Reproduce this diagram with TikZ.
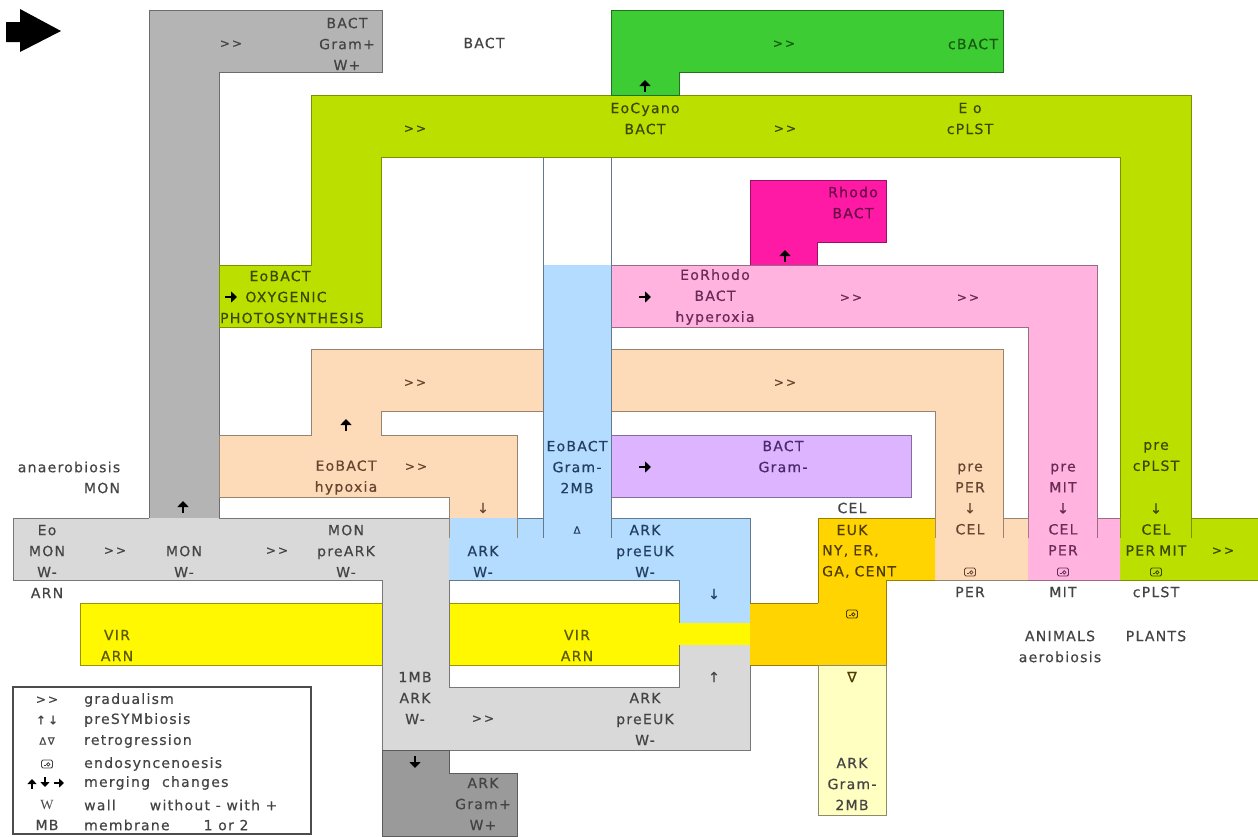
\documentclass[tikz,border=0pt]{standalone}
\usepackage{fontspec}
\setmainfont{DejaVu Sans}[LetterSpace=9, FakeBold=0.5]
\newfontfamily\serifw{Liberation Serif}
\usetikzlibrary{arrows.meta}
\definecolor{cGrayU}{HTML}{B4B4B4}
\definecolor{cGrayL}{HTML}{D9D9D9}
\definecolor{cGrayD}{HTML}{9A9A9A}
\definecolor{cLime}{HTML}{BBE000}
\definecolor{cGreen}{HTML}{3DCC33}
\definecolor{cMag}{HTML}{FF1AA6}
\definecolor{cPink}{HTML}{FFB3DE}
\definecolor{cPeach}{HTML}{FDDBB8}
\definecolor{cPurp}{HTML}{DDB4FF}
\definecolor{cBlue}{HTML}{B4DCFF}
\definecolor{cYel}{HTML}{FFF800}
\definecolor{cGold}{HTML}{FFD400}
\definecolor{cLYel}{HTML}{FFFFC2}
\definecolor{tGray}{HTML}{444444}
\definecolor{tLime}{HTML}{3A4800}
\definecolor{tGreen}{HTML}{155A0E}
\definecolor{tMag}{HTML}{6A0A44}
\definecolor{tPink}{HTML}{6A2A58}
\definecolor{tPeach}{HTML}{664530}
\definecolor{tPurp}{HTML}{4A2A6A}
\definecolor{tBlue}{HTML}{233F60}
\definecolor{tYel}{HTML}{5A5A00}
\definecolor{tGold}{HTML}{4E3C00}
\tikzset{
  ol/.style={draw=#1, line width=0.9pt, line join=miter},
  t/.style={inner sep=0pt, align=center, font=\fontsize{14}{21}\selectfont},
  gg/.style={t, font=\fontsize{12}{12}\selectfont},
  ha/.pic={\draw[line width=2.8pt,-{Triangle[length=6pt,width=11pt]}] (-6,0) -- (6,0);},
  hs/.pic={\draw[line width=2.4pt,-{Triangle[length=5pt,width=9pt]}] (-5,0) -- (5,0);},
  endo/.pic={\draw[line width=0.9pt,rounded corners=1.4pt] (-5.5,-4) rectangle (5.5,4);
             \draw[line width=0.8pt] (1.3,0.4) circle (1.7); \draw[line width=0.8pt] (-3.3,1.7) -- (-0.6,1.7);},
}
\begin{document}
\begin{tikzpicture}[x=1pt,y=-1pt]
\useasboundingbox[fill=white] (0,0) rectangle (1258,836);
% upper gray (BACT Gram+)
\fill[cGrayU] (149,10) -- (382,10) -- (382,72) -- (219,72) -- (219,518) -- (149,518) -- cycle;
\draw[ol=cGrayU!60!black] (149,518) -- (149,10) -- (382,10) -- (382,72) -- (219,72) -- (219,518);
% lime green
\fill[cLime] (311,95) -- (1191,95) -- (1191,518) -- (1258,518) -- (1258,580) -- (1120,580) -- (1120,157) -- (381,157) -- (381,327) -- (219,327) -- (219,265) -- (311,265) -- cycle;
\draw[ol=cLime!65!black] (1120,538) -- (1120,157) -- (381,157) -- (381,327) -- (219,327) -- (219,265) -- (311,265) -- (311,95) -- (1191,95) -- (1191,538);
\draw[ol=cLime!65!black] (1191,518) -- (1258,518) (1120,580) -- (1258,580);
% cBACT green
\filldraw[fill=cGreen, ol=cGreen!55!black] (611,10) -- (1003,10) -- (1003,72) -- (679,72) -- (679,95) -- (611,95) -- cycle;
% magenta
\filldraw[fill=cMag, ol=cMag!60!black] (750,180) -- (886,180) -- (886,242) -- (817,242) -- (817,265) -- (750,265) -- cycle;
% pink
\fill[cPink] (611,265) -- (1097,265) -- (1097,518) -- (1120,518) -- (1120,580) -- (1028,580) -- (1028,327) -- (611,327) -- cycle;
\draw[ol=cPink!60!black] (1028,538) -- (1028,327) -- (611,327) -- (611,265) -- (1097,265) -- (1097,538) (1097,518) -- (1120,518) (1028,580) -- (1120,580);
% peach
\fill[cPeach] (311,349) -- (1003,349) -- (1003,518) -- (1028,518) -- (1028,580) -- (935,580) -- (935,411) -- (381,411) -- (381,435) -- (517,435) -- (517,518) -- (449,518) -- (449,497) -- (219,497) -- (219,435) -- (311,435) -- cycle;
\draw[ol=cPeach!60!black] (935,538) -- (935,411) -- (381,411) -- (381,435) -- (517,435) -- (517,538) (449,538) -- (449,497) -- (219,497) -- (219,435) -- (311,435) -- (311,349) -- (1003,349) -- (1003,538) (1003,518) -- (1028,518) (935,580) -- (1028,580);
% purple
\filldraw[fill=cPurp, ol=cPurp!60!black] (611,435) rectangle (911,497);
% blue
\fill[cBlue] (543,265) -- (611,265) -- (611,518) -- (750,518) -- (750,623) -- (679,623) -- (679,580) -- (449,580) -- (449,518) -- (543,518) -- cycle;
\draw[ol=cBlue!55!black] (543,157) -- (543,538) (611,157) -- (611,538) (517,518) -- (543,518) (611,518) -- (750,518) -- (750,623) (679,623) -- (679,580) -- (449,580);
% yellow
\filldraw[fill=cYel, ol=cYel!60!black] (80,603) rectangle (679,665);
% lower gray
\fill[cGrayL] (13,518) -- (449,518) -- (449,687) -- (679,687) -- (679,645) -- (750,645) -- (750,750) -- (382,750) -- (382,580) -- (13,580) -- cycle;
\draw[ol=cGrayL!55!black] (149,518) -- (13,518) -- (13,580) -- (382,580) -- (382,750) -- (750,750) -- (750,645) (679,645) -- (679,687) -- (449,687) -- (449,580) (219,518) -- (449,518);
% yellow strip
\fill[cYel] (679,623) rectangle (750,645);
% dark gray
\filldraw[fill=cGrayD, ol=cGrayD!60!black] (382,750) -- (449,750) -- (449,773) -- (517,773) -- (517,836) -- (382,836) -- cycle;
% gold
\fill[cGold] (818,518) -- (935,518) -- (935,580) -- (886,580) -- (886,665) -- (750,665) -- (750,603) -- (818,603) -- cycle;
\draw[ol=cGold!60!black] (818,603) -- (818,518) -- (935,518) (935,580) -- (886,580) -- (886,665) -- (750,665) (750,603) -- (818,603);
% light yellow
\filldraw[fill=cLYel, ol=cLYel!55!black] (818,665) rectangle (886,815);
% ticks
\draw[ol=cPeach!60!black] (449,518) -- (449,538) (517,518) -- (517,538);
% big black arrow
\fill[black] (6,22) -- (20,22) -- (20,9) -- (61,31) -- (20,52) -- (20,42) -- (6,42) -- cycle;
% legend
\draw[line width=1.5pt, draw=black!70] (13,687) rectangle (311,834);

% ---------- texts ----------
\node[gg, text=tGray] (g1) at (231,44) {>\,>};
\node[t, text=tGray] (g2) at (347,44) {BACT\\Gram+\\W+};
\node[t, text=tGray] (bact) at (484,43) {BACT};
\node[gg, text=tGreen] (c1) at (784,44) {>\,>};
\node[t, text=tGreen] (c2) at (973,44) {cBACT};
\node[gg, text=tLime] (l1) at (415,129) {>\,>};
\node[t, text=tLime] (l2) at (645,118.5) {EoCyano\\BACT};
\node[gg, text=tLime] (l3) at (785,129) {>\,>};
\node[t, text=tLime] (l4) at (970,118.5) {E o\\cPLST};
\node[t, text=tLime] (l5) at (280,276) {EoBACT};
\node[t, text=tLime] (l6) at (286,297) {OXYGENIC};
\node[t, text=tLime] (l7) at (292,318) {PHOTOSYNTHESIS};
\node[t, text=tMag] (m1) at (853,202.5) {Rhodo\\BACT};
\node[t, text=tPink] (p1) at (715,297) {EoRhodo\\BACT\\hyperoxia};
\node[gg, text=tPink] (p2) at (851,298) {>\,>};
\node[gg, text=tPink] (p3) at (968,298) {>\,>};
\node[t, text=tPink] (p4) at (1063,509.5) {pre\\MIT\\↓\\CEL\\PER};
\node[t, text=tGray] (p5) at (1063,592) {MIT};
\node[gg, text=tPeach] (e1) at (415,383) {>\,>};
\node[gg, text=tPeach] (e2) at (785,383) {>\,>};
\node[t, text=tPeach] (e3) at (346,477.5) {EoBACT\\hypoxia};
\node[gg, text=tPeach] (e4) at (416,467) {>\,>};
\node[t, text=tPeach] (e5) at (483,508) {↓};
\node[t, text=tPeach] (e6) at (970,499) {pre\\PER\\↓\\CEL};
\node[t, text=tGray] (e7) at (970,592) {PER};
\node[t, text=tLime] (r1) at (1156,456.5) {pre\\cPLST};
\node[t, text=tLime] (r2) at (1156,529.5) {↓\\CEL\\PER\hspace{4pt}MIT};
\node[t, text=tGray] (r3) at (1156,592) {cPLST};
\node[gg, text=tLime] (r4) at (1223,551) {>\,>};
\node[t, text=tPurp] (u1) at (783,456.5) {BACT\\Gram-};
\node[t, text=tBlue] (b1) at (577,467) {EoBACT\\Gram-\\2MB};
\node[t, text=tBlue, font=\fontsize{10}{10}\selectfont] (b2) at (577,530) {Δ};
\node[t, text=tBlue] (b3) at (483,561.5) {ARK\\W-};
\node[t, text=tBlue] (b4) at (645,551) {ARK\\preEUK\\W-};
\node[t, text=tBlue] (b5) at (714,594) {↓};
\node[t, text=tGray] (a1) at (69,467) {anaerobiosis};
\node[t, text=tGray] (a2) at (102,488) {MON};
\node[t, text=tGray] (n1) at (47,561.5) {Eo\\MON\\W-\\ARN};
\node[gg, text=tGray] (n2) at (115,551) {>\,>};
\node[t, text=tGray] (n3) at (184,561.5) {MON\\W-};
\node[gg, text=tGray] (n4) at (277,551) {>\,>};
\node[t, text=tGray] (n5) at (346,551) {MON\\preARK\\W-};
\node[t, text=tYel] (y1) at (117,645.5) {VIR\\ARN};
\node[t, text=tYel] (y2) at (577,645.5) {VIR\\ARN};
\node[t, text=tGray] (n6) at (415,698) {1MB\\ARK\\W-};
\node[gg, text=tGray] (n7) at (483,719) {>\,>};
\node[t, text=tGray] (n8) at (645,719) {ARK\\preEUK\\W-};
\node[t, text=tGray] (n9) at (714,677) {↑};
\node[t, text=tGray] (d1) at (483,804) {ARK\\Gram+\\W+};
\node[t, text=tGray] (o1) at (852,508) {CEL};
\node[t, text=tGold] (o2) at (852,530) {EUK};
\node[t, text=tGold, anchor=west, align=left] (o3) at (822,561.5) {NY,\hspace{5pt}ER,\\GA,\hspace{5pt}CENT};
\node[t, text=tGold] (o4) at (852,677) {∇};
\node[t, text=tGray] (ly) at (852,784) {ARK\\Gram-\\2MB};
\node[t, text=tGray] (an) at (1060,646.5) {ANIMALS\\aerobiosis};
\node[t, text=tGray] (pl) at (1156,636) {PLANTS};
% heavy arrows
\pic[color=black, rotate=90] at (645,86) {ha};
\pic[color=black, rotate=90] at (785,256) {ha};
\pic[color=black] at (231,297) {ha};
\pic[color=black] at (645,297) {ha};
\pic[color=black, rotate=90] at (346,425) {ha};
\pic[color=black, rotate=90] at (183,507) {ha};
\pic[color=black] at (645,467) {ha};
\pic[color=black, rotate=-90] at (415,762) {ha};
% endosyncenoesis symbols
\pic[color=tGold] at (852,614) {endo};
\pic[color=tPeach] at (970,572) {endo};
\pic[color=tPink] at (1063,572) {endo};
\pic[color=tLime] at (1156,572) {endo};
% legend content
\node[gg, text=tGray] (k1) at (47,700) {>\,>};
\node[t, text=tGray, font=\fontsize{12}{12}\selectfont] (k2) at (47,720) {↑\,↓};
\node[t, text=tGray, font=\fontsize{10}{10}\selectfont] (k3) at (47,741) {Δ\,∇};
\pic[color=tGray] at (47,764) {endo};
\pic[color=black, rotate=90] at (32,784) {hs};
\pic[color=black, rotate=-90] at (45,782) {hs};
\pic[color=black] at (59,783) {hs};
\node[t, text=tGray, font=\serifw\fontsize{14}{14}\selectfont] (k6) at (47,805) {W};
\node[t, text=tGray] (k7) at (47,825) {MB};
\node[t, text=tGray, anchor=west] (x1) at (84,700) {gradualism};
\node[t, text=tGray, anchor=west] (x2) at (84,720) {preSYMbiosis};
\node[t, text=tGray, anchor=west] (x3) at (84,741) {retrogression};
\node[t, text=tGray, anchor=west] (x4) at (84,764) {endosyncenoesis};
\node[t, text=tGray, anchor=west] (x5) at (84,783) {merging\hspace{12pt}changes};
\node[t, text=tGray, anchor=west] (x6) at (84,805) {wall\hspace{34pt}without - with +};
\node[t, text=tGray, anchor=west] (x7) at (84,825) {membrane\hspace{34pt}1 or 2};
\end{tikzpicture}
\end{document}
